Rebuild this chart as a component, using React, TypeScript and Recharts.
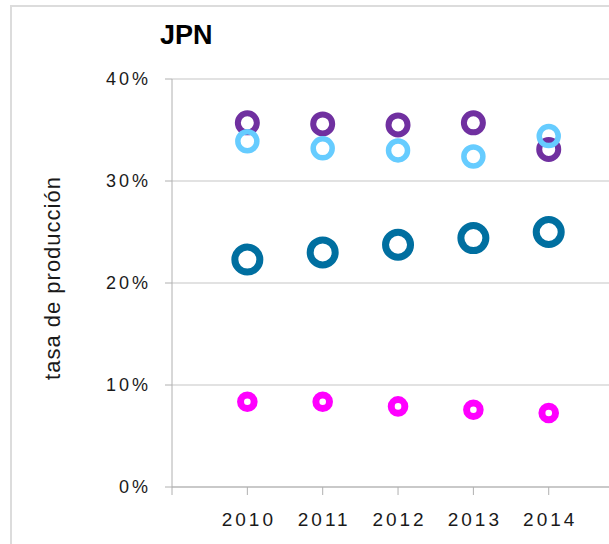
import { ScatterChart, Scatter, XAxis, YAxis, CartesianGrid } from 'recharts'

const years = [2010, 2011, 2012, 2013, 2014]
const purpleValues = [35.7, 35.6, 35.5, 35.7, 33.1]
const lightBlueValues = [33.9, 33.2, 33.0, 32.4, 34.4]
const darkBlueValues = [22.3, 23.0, 23.75, 24.4, 25.0]
const magentaValues = [8.36, 8.36, 7.9, 7.58, 7.25]
const yTicks = [0, 10, 20, 30, 40]
const xTicks = [2009, 2010, 2011, 2012, 2013, 2014]

const toPoints = (vals: number[]) => years.map((x, i) => ({ x, y: vals[i] }))

const ring = (r: number, sw: number, color: string) => (props: any) => (
  <circle cx={props.cx} cy={props.cy} r={r} fill="none" stroke={color} strokeWidth={sw} />
)

const font = 'Liberation Sans, Arial, sans-serif'

const App = () => {
  return (
    <div style={{ position: 'absolute', left: 0, top: 0, width: 609, height: 544, overflow: 'hidden', background: '#fff' }}>
      {/* frame */}
      <div style={{ position: 'absolute', left: 10, top: 5, width: 700, height: 700, border: '2px solid #dcdcdc' }} />
      <div
        style={{
          position: 'absolute',
          left: 160,
          top: 22,
          fontFamily: font,
          fontWeight: 'bold',
          fontSize: 27,
          lineHeight: '27px',
          color: '#000',
        }}
      >
        JPN
      </div>
      <div style={{ position: 'absolute', left: 0, top: 0 }}>
        <ScatterChart width={609} height={544} margin={{ top: 79, right: 0, left: 0, bottom: 0 }}>
          <CartesianGrid vertical={false} stroke="#d9d9d9" strokeWidth={1.5} />
          <XAxis
            type="number"
            dataKey="x"
            domain={[2009, 2014.8]}
            ticks={xTicks}
            allowDataOverflow
            height={57}
            tickSize={8}
            tickMargin={18}
            stroke="#b0b0b0"
            tick={{ fontFamily: font, fontSize: 19, fill: '#1a1a1a', letterSpacing: 3, dx: 1.5 }}
            tickFormatter={(v: number) => (v === 2009 ? '' : String(v))}
          />
          <YAxis
            type="number"
            dataKey="y"
            domain={[0, 40]}
            ticks={yTicks}
            width={172}
            tickSize={7}
            tickMargin={14}
            stroke="#b0b0b0"
            tick={{ fontFamily: font, fontSize: 18, fill: '#1a1a1a', letterSpacing: 3 }}
            tickFormatter={(v: number) => `${v}%`}
            label={{
              content: () => (
                <text
                  x={52}
                  y={278}
                  transform="rotate(-90 52 278)"
                  textAnchor="middle"
                  dominantBaseline="central"
                  fontFamily={font}
                  fontSize={22}
                  letterSpacing={1}
                  fill="#1a1a1a"
                >
                  tasa de producción
                </text>
              ),
            }}
          />
          <Scatter data={toPoints(purpleValues)} shape={ring(9.5, 6, '#7030A0')} isAnimationActive={false} />
          <Scatter data={toPoints(lightBlueValues)} shape={ring(9.5, 5.5, '#66CCFF')} isAnimationActive={false} />
          <Scatter data={toPoints(darkBlueValues)} shape={ring(12.5, 7, '#006FA0')} isAnimationActive={false} />
          <Scatter data={toPoints(magentaValues)} shape={ring(6.8, 7, '#FF00FF')} isAnimationActive={false} />
        </ScatterChart>
      </div>
    </div>
  )
}

export default App
